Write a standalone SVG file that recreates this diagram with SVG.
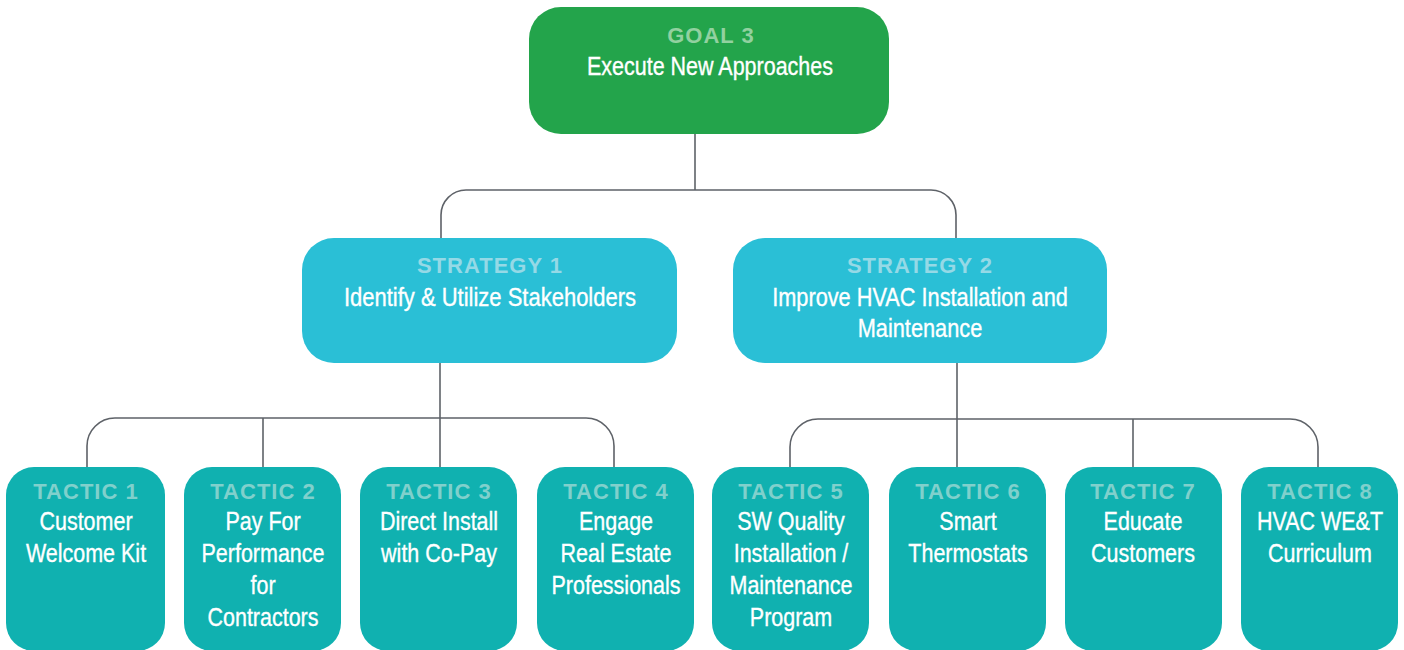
<svg xmlns="http://www.w3.org/2000/svg" width="1404" height="650" viewBox="0 0 1404 650">
<style>
.goal{fill:#23a44b}
.strat{fill:#2abfd6}
.tac{fill:#10b1b0}
.t{font-family:"Liberation Sans",Arial,sans-serif;font-weight:bold;font-size:22px;letter-spacing:1px;text-anchor:middle}
.gt{fill:#92d1a0}
.st{fill:#95d9e6}
.tt{fill:#80d0cc}
.b{font-family:"Liberation Sans",Arial,sans-serif;font-size:25px;fill:#ffffff;stroke:#ffffff;stroke-width:0.35;text-anchor:middle}
.c{fill:none;stroke:#5e6268;stroke-width:1.6}
</style>
<rect width="1404" height="650" fill="#ffffff"/>
<g id="connectors">
<path class="c" d="M695 134 V190"/>
<path class="c" d="M441 238 V215 A25 25 0 0 1 466 190 H931 A25 25 0 0 1 956 215 V238"/>
<path class="c" d="M440 363 V467"/>
<path class="c" d="M87 467 V446 A28 28 0 0 1 115 418 H586 A28 28 0 0 1 614 446 V467"/>
<path class="c" d="M263 418 V467"/>
<path class="c" d="M957 363 V467"/>
<path class="c" d="M790 467 V447 A28 28 0 0 1 818 419 H1290 A28 28 0 0 1 1318 447 V467"/>
<path class="c" d="M1133 419 V467"/>
</g>
<g id="goal3">
<rect class="goal" x="529" y="7" width="360" height="127" rx="32"/>
<text class="t gt" x="711" y="43">GOAL 3</text>
<g transform="translate(710 0) scale(0.86 1)"><text class="b" x="0" y="75">Execute New Approaches</text></g>
</g>
<g id="strategy1">
<rect class="strat" x="302" y="238" width="375" height="125" rx="32"/>
<text class="t st" x="490" y="273">STRATEGY 1</text>
<g transform="translate(490 0) scale(0.88 1)"><text class="b" x="0" y="306">Identify &amp; Utilize Stakeholders</text></g>
</g>
<g id="strategy2">
<rect class="strat" x="733" y="238" width="374" height="125" rx="32"/>
<text class="t st" x="920" y="273">STRATEGY 2</text>
<g transform="translate(920 0) scale(0.87 1)"><text class="b" x="0" y="306">Improve HVAC Installation and</text><text class="b" x="0" y="337">Maintenance</text></g>
</g>
<g id="tactic1">
<rect class="tac" x="6" y="467" width="159" height="184" rx="28"/>
<text class="t tt" x="86" y="499">TACTIC 1</text>
<g transform="translate(86 0) scale(0.86 1)"><text class="b" x="0" y="530">Customer</text><text class="b" x="0" y="562">Welcome Kit</text></g>
</g>
<g id="tactic2">
<rect class="tac" x="184" y="467" width="157" height="184" rx="28"/>
<text class="t tt" x="263" y="499">TACTIC 2</text>
<g transform="translate(263 0) scale(0.86 1)"><text class="b" x="0" y="530">Pay For</text><text class="b" x="0" y="562">Performance</text><text class="b" x="0" y="594">for</text><text class="b" x="0" y="626">Contractors</text></g>
</g>
<g id="tactic3">
<rect class="tac" x="360" y="467" width="157" height="184" rx="28"/>
<text class="t tt" x="439" y="499">TACTIC 3</text>
<g transform="translate(439 0) scale(0.86 1)"><text class="b" x="0" y="530">Direct Install</text><text class="b" x="0" y="562">with Co-Pay</text></g>
</g>
<g id="tactic4">
<rect class="tac" x="537" y="467" width="157" height="184" rx="28"/>
<text class="t tt" x="616" y="499">TACTIC 4</text>
<g transform="translate(616 0) scale(0.86 1)"><text class="b" x="0" y="530">Engage</text><text class="b" x="0" y="562">Real Estate</text><text class="b" x="0" y="594">Professionals</text></g>
</g>
<g id="tactic5">
<rect class="tac" x="712" y="467" width="157" height="184" rx="28"/>
<text class="t tt" x="791" y="499">TACTIC 5</text>
<g transform="translate(791 0) scale(0.86 1)"><text class="b" x="0" y="530">SW Quality</text><text class="b" x="0" y="562">Installation /</text><text class="b" x="0" y="594">Maintenance</text><text class="b" x="0" y="626">Program</text></g>
</g>
<g id="tactic6">
<rect class="tac" x="889" y="467" width="157" height="184" rx="28"/>
<text class="t tt" x="968" y="499">TACTIC 6</text>
<g transform="translate(968 0) scale(0.86 1)"><text class="b" x="0" y="530">Smart</text><text class="b" x="0" y="562">Thermostats</text></g>
</g>
<g id="tactic7">
<rect class="tac" x="1065" y="467" width="157" height="184" rx="28"/>
<text class="t tt" x="1143" y="499">TACTIC 7</text>
<g transform="translate(1143 0) scale(0.86 1)"><text class="b" x="0" y="530">Educate</text><text class="b" x="0" y="562">Customers</text></g>
</g>
<g id="tactic8">
<rect class="tac" x="1241" y="467" width="157" height="184" rx="28"/>
<text class="t tt" x="1320" y="499">TACTIC 8</text>
<g transform="translate(1320 0) scale(0.86 1)"><text class="b" x="0" y="530">HVAC WE&amp;T</text><text class="b" x="0" y="562">Curriculum</text></g>
</g>
</svg>
